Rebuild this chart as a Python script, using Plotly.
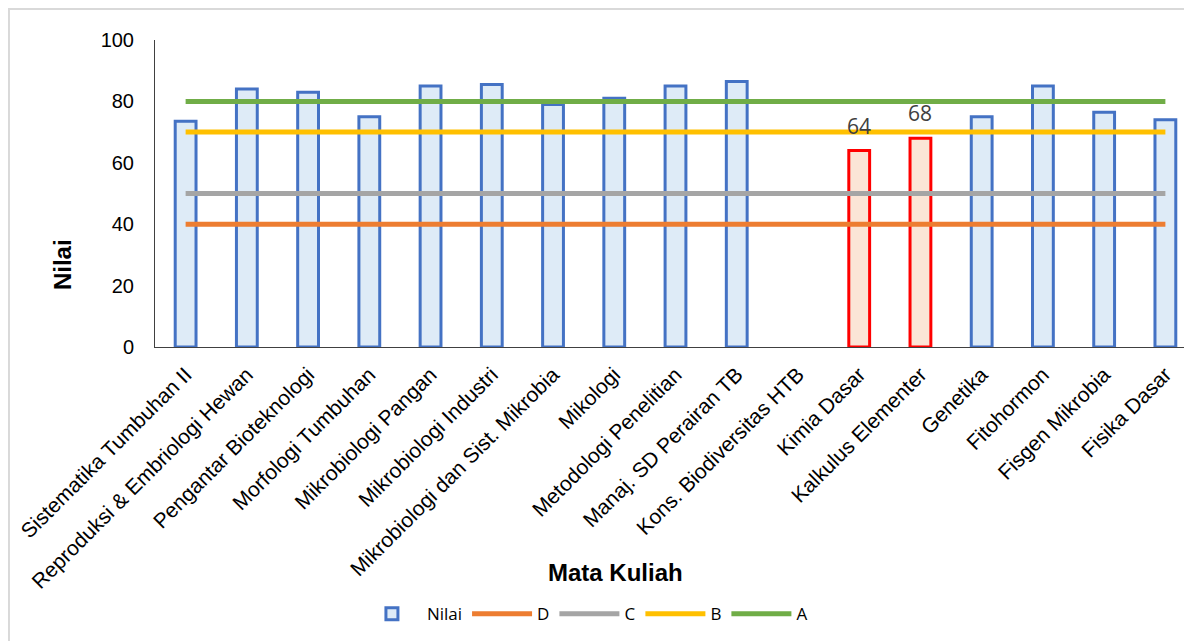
import plotly.graph_objects as go

categories = ["Sistematika Tumbuhan II", "Reproduksi & Embriologi Hewan", "Pengantar Bioteknologi",
              "Morfologi Tumbuhan", "Mikrobiologi Pangan", "Mikrobiologi Industri",
              "Mikrobiologi dan Sist. Mikrobia", "Mikologi", "Metodologi Penelitian",
              "Manaj. SD Perairan TB", "Kons. Biodiversitas HTB", "Kimia Dasar",
              "Kalkulus Elementer", "Genetika", "Fitohormon", "Fisgen Mikrobia", "Fisika Dasar"]
nilai = [73.5, 84, 83, 75, 85, 85.5, 79, 81, 85, 86.5, None, 64, 68, 75, 85, 76.5, 74]
grade_D = [40] * 17
grade_C = [50] * 17
grade_B = [70] * 17
grade_A = [80] * 17
labelled = {"Kimia Dasar": "64", "Kalkulus Elementer": "68"}

fills = ["#FBE5D6" if c in labelled else "#DEEBF7" for c in categories]
edges = ["#FF0000" if c in labelled else "#4472C4" for c in categories]

fig = go.Figure()
fig.add_trace(go.Bar(x=categories, y=nilai, name="Nilai", width=0.34,
                     marker=dict(color=fills, line=dict(color=edges, width=3))))
for nm, vals, col in [("D", grade_D, "#ED7D31"), ("C", grade_C, "#A5A5A5"),
                      ("B", grade_B, "#FFC000"), ("A", grade_A, "#70AD47")]:
    fig.add_trace(go.Scatter(x=categories, y=vals, name=nm, mode="lines",
                             line=dict(color=col, width=5)))

annotations = [
    dict(text="<b>Nilai</b>", xref="paper", yref="paper", x=-0.0893, y=0.267,
         xanchor="center", yanchor="middle",
         textangle=-90, showarrow=False, font=dict(size=24)),
    dict(text="<b>Mata Kuliah</b>", xref="paper", yref="paper", x=0.442, y=-0.736,
         xanchor="center", yanchor="middle", showarrow=False, font=dict(size=24)),
]
for c, v in zip(categories, nilai):
    if c in labelled:
        annotations.append(dict(x=c, y=v, text=labelled[c], showarrow=False, yshift=25,
                                font=dict(family="Open Sans, Liberation Sans", size=21,
                                          color="#404040")))

fig.update_layout(
    width=1192, height=641,
    margin=dict(l=147, r=4, t=32, b=302),
    paper_bgcolor="white", plot_bgcolor="white",
    font=dict(family="Liberation Sans, Arial", color="black"),
    showlegend=True,
    legend=dict(orientation="h", x=0.413, xanchor="center", y=-0.87, yanchor="middle",
                font=dict(family="Open Sans, Liberation Sans", size=17), traceorder="normal",
                itemwidth=60),
    xaxis=dict(showline=True, linecolor="#404040", linewidth=1, tickangle=-45,
               tickfont=dict(size=21), ticks="", range=[-0.5, 16.5], automargin=False,
               ticklabelstandoff=6),
    yaxis=dict(range=[0, 100], dtick=20, showgrid=False, showline=True, linecolor="#404040",
               linewidth=1, tickfont=dict(size=20), ticks="", zeroline=False,
               automargin=False, ticklabelstandoff=16),
    annotations=annotations,
    shapes=[dict(type="rect", xref="paper", yref="paper", x0=-0.1403, x1=1.1,
                 y0=-1.2, y1=1.101, line=dict(color="#D9D9D9", width=2))],
)

fig.write_html("out.html")
